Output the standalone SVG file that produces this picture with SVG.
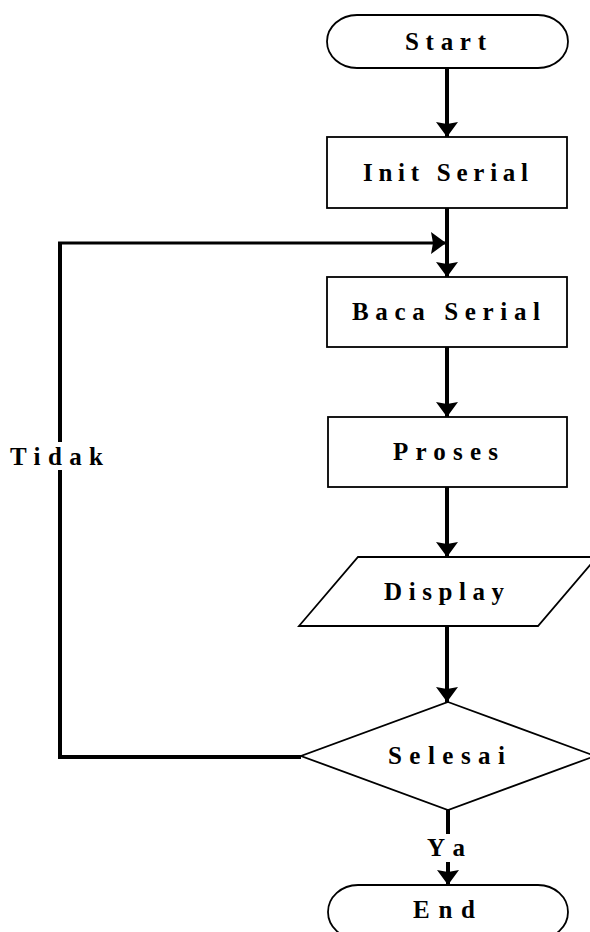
<svg xmlns="http://www.w3.org/2000/svg" width="590" height="932" viewBox="0 0 590 932">
  <style>
    .shape { fill: #ffffff; stroke: #000000; stroke-width: 1.8; }
    .conn { fill: none; stroke: #000000; stroke-width: 4; stroke-linecap: butt; }
    .thin { stroke-width: 3; }
    .lbl { font-family: "Liberation Serif", "Times New Roman", serif; font-weight: bold; font-size: 25px; fill: #000000; }
  </style>
  <defs>
    <marker id="arrow" markerUnits="userSpaceOnUse" markerWidth="16" markerHeight="24" viewBox="0 0 16 24" refX="15" refY="12" orient="auto">
      <path d="M0,1 L15,12 L0,23 L2,12 Z" fill="#000000"/>
    </marker>
  </defs>
  <rect width="590" height="932" fill="#ffffff"/>

  <g id="connectors">
    <line class="conn" x1="447" y1="68" x2="447" y2="137" marker-end="url(#arrow)"/>
    <line class="conn" x1="447" y1="208" x2="447" y2="277" marker-end="url(#arrow)"/>
    <line class="conn" x1="447" y1="347" x2="447" y2="417" marker-end="url(#arrow)"/>
    <line class="conn" x1="447" y1="487" x2="447" y2="557" marker-end="url(#arrow)"/>
    <line class="conn" x1="447" y1="626" x2="447" y2="702" marker-end="url(#arrow)"/>
    <line class="conn" x1="448" y1="810" x2="448" y2="834"/>
    <line class="conn" x1="448" y1="862" x2="448" y2="885" marker-end="url(#arrow)"/>
    <path class="conn" d="M301,757 L60,757 L60,470"/>
    <path class="conn" d="M60,442 L60,243"/>
    <path class="conn thin" d="M58,243 L446,243" marker-end="url(#arrow)"/>
    <text class="lbl" x="10" y="465" textLength="93" lengthAdjust="spacing">Tidak</text>
    <text class="lbl" x="427" y="856" textLength="38" lengthAdjust="spacing">Ya</text>
  </g>

  <g id="start">
    <rect class="shape" x="327" y="15" width="241" height="53" rx="30" ry="26.5"/>
    <text class="lbl" x="405" y="50" textLength="81" lengthAdjust="spacing">Start</text>
  </g>

  <g id="init-serial">
    <rect class="shape" x="327" y="137" width="240" height="71"/>
    <text class="lbl" x="363" y="181" textLength="165" lengthAdjust="spacing">Init Serial</text>
  </g>

  <g id="baca-serial">
    <rect class="shape" x="327" y="277" width="240" height="70"/>
    <text class="lbl" x="352" y="320" textLength="188" lengthAdjust="spacing">Baca Serial</text>
  </g>

  <g id="proses">
    <rect class="shape" x="328" y="417" width="239" height="70"/>
    <text class="lbl" x="393" y="460" textLength="105" lengthAdjust="spacing">Proses</text>
  </g>

  <g id="display">
    <polygon class="shape" points="358,557 597,557 538,626 299,626"/>
    <text class="lbl" x="384" y="600" textLength="120" lengthAdjust="spacing">Display</text>
  </g>

  <g id="selesai">
    <polygon class="shape" points="448,702 595,756 448,810 301,756"/>
    <text class="lbl" x="388" y="764" textLength="117" lengthAdjust="spacing">Selesai</text>
  </g>

  <g id="end">
    <rect class="shape" x="328" y="885" width="240" height="54" rx="30" ry="27"/>
    <text class="lbl" x="413" y="918" textLength="62" lengthAdjust="spacing">End</text>
  </g>
</svg>
